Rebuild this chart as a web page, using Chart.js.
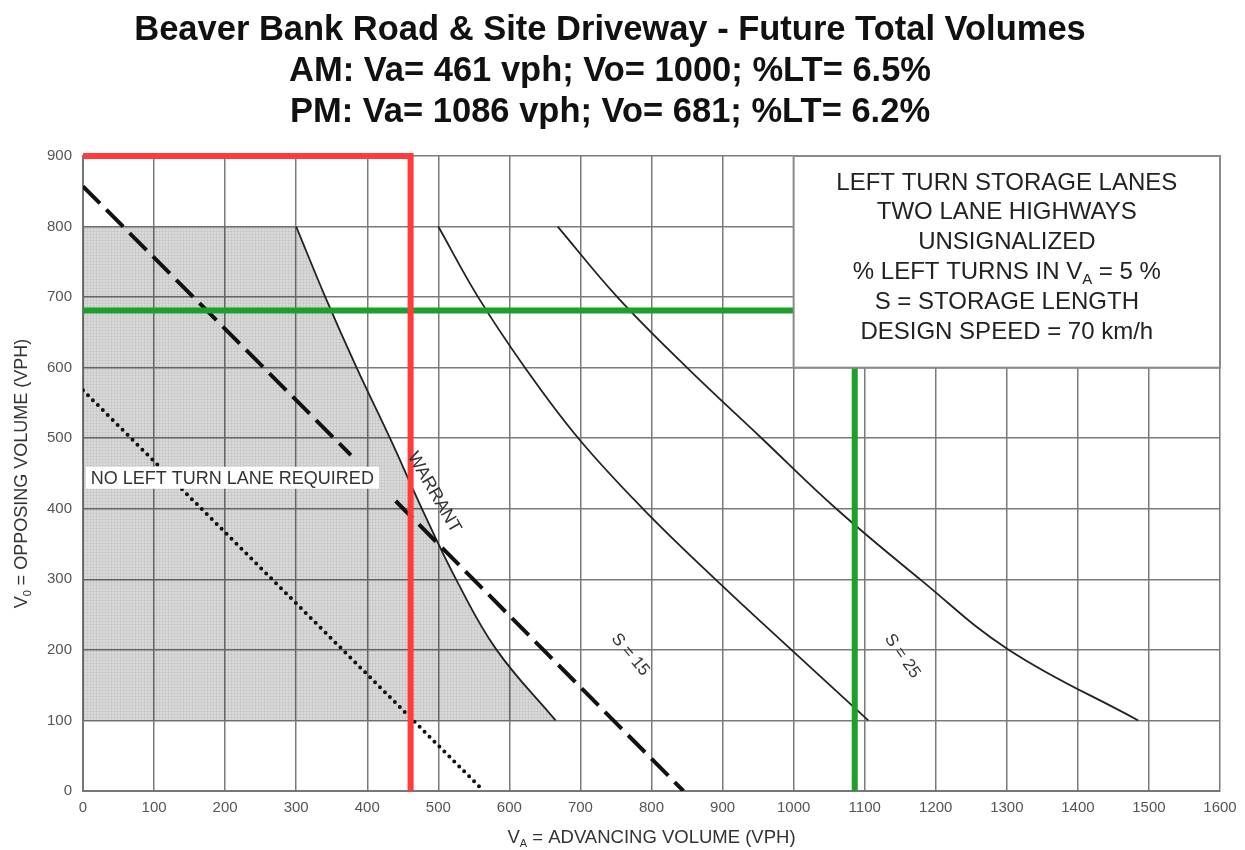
<!DOCTYPE html>
<html><head><meta charset="utf-8">
<script src="https://cdn.jsdelivr.net/npm/chart.js@4.4.1/dist/chart.umd.min.js"></script>
<style>html,body{margin:0;padding:0;background:#fff}</style>
</head><body>
<canvas id="c" width="1245" height="850"></canvas>
<script>
// ---------- data ----------
const titleLines = [
  "Beaver Bank Road & Site Driveway - Future Total Volumes",
  "AM: Va= 461 vph; Vo= 1000; %LT= 6.5%",
  "PM: Va= 1086 vph; Vo= 681; %LT= 6.2%"
];
const xMin = 0, xMax = 1600, xStep = 100;
const yMin = 0, yMax = 900, yStep = 100;

// curve Y levels shared by the three solid curves
const curveY   = [800, 700, 600, 500, 400, 300, 200, 100];
const warrantX = [300, 341, 385, 432, 477, 525, 582, 665];
const s15X     = [500, 556, 622, 697, 788, 890, 997, 1105];
const s25X     = [668, 752, 850, 955, 1060, 1178, 1303, 1485];

// shaded "no left turn lane" zone top edge (left of warrant curve) and its base
const shadeTopX = [0, 300];
const shadeTopY = [800, 800];
const shadeBase = 100;

// dashed line (two segments) and dotted line
const dashAX = [0, 377],  dashAY = [857, 476];
const dashBX = [440, 845], dashBY = [411, 0];
const dotX = [0, 564],    dotY = [568, 0];

// study volumes
const amVa = 461, amVo = 1000;
const pmVa = 1086, pmVo = 681;

// info box extent (data coords) and its text
const boxX = [1000, 1600], boxY = [600, 900];
const boxLines = [
  ["LEFT TURN STORAGE LANES"],
  ["TWO LANE HIGHWAYS"],
  ["UNSIGNALIZED"],
  ["% LEFT TURNS IN V", "A", " = 5 %"],
  ["S = STORAGE LENGTH"],
  ["DESIGN SPEED = 70 km/h"]
];
// annotation labels: text, x, y, angle(deg)
const labels = [
  {t: "WARRANT", x: 494, y: 423, a: 60},
  {t: "S = 15",  x: 770, y: 193, a: 50},
  {t: "S = 25",  x: 1153, y: 191, a: 55}
];
const noLaneLabel = {t: "NO LEFT TURN LANE REQUIRED", x: 4, y: 444};

// ---------- helpers ----------
const FONT = "'Liberation Sans', Arial, Helvetica, sans-serif";
const pts = (xs, ys) => xs.map((x, i) => ({x: x, y: ys[i]}));

const ctx0 = document.getElementById('c').getContext('2d');
function makePattern() {
  const c = document.createElement('canvas');
  c.width = 3; c.height = 3;
  const g = c.getContext('2d');
  g.fillStyle = 'rgba(0,0,0,0.15)';
  g.fillRect(0, 0, 3, 3);
  g.fillStyle = 'rgba(0,0,0,0.05)';
  g.fillRect(0, 0, 3, 1);
  g.fillRect(0, 0, 1, 3);
  return ctx0.createPattern(c, 'repeat');
}
const shadePattern = makePattern();

function drawParts(ctx, parts, cx, cy, size, color) {
  // parts alternate: even index = normal text, odd index = subscript
  const subSize = Math.round(size * 0.62);
  let w = 0;
  parts.forEach((p, i) => {
    ctx.font = (i % 2 ? subSize : size) + 'px ' + FONT;
    w += ctx.measureText(p).width;
  });
  let x = cx - w / 2;
  ctx.fillStyle = color;
  ctx.textAlign = 'left';
  ctx.textBaseline = 'middle';
  parts.forEach((p, i) => {
    const sub = i % 2 === 1;
    ctx.font = (sub ? subSize : size) + 'px ' + FONT;
    ctx.fillText(p, x, cy + (sub ? size * 0.32 : 0));
    x += ctx.measureText(p).width;
  });
}

const overlay = {
  id: 'overlay',
  afterDatasetsDraw(chart) {
    const ctx = chart.ctx, xs = chart.scales.x, ys = chart.scales.y;
    ctx.save();
    // no-lane label with white background
    ctx.font = '18px ' + FONT;
    const px = xs.getPixelForValue(noLaneLabel.x), py = ys.getPixelForValue(noLaneLabel.y);
    const tw = ctx.measureText(noLaneLabel.t).width;
    ctx.fillStyle = '#fff';
    ctx.fillRect(px, py - 11, tw + 10, 22);
    ctx.fillStyle = '#333';
    ctx.textAlign = 'left'; ctx.textBaseline = 'middle';
    ctx.fillText(noLaneLabel.t, px + 5, py + 1);

    // rotated labels
    labels.forEach(l => {
      ctx.save();
      ctx.translate(xs.getPixelForValue(l.x), ys.getPixelForValue(l.y));
      ctx.rotate(l.a * Math.PI / 180);
      ctx.font = (l.t === 'WARRANT' ? 18 : 17) + 'px ' + FONT;
      ctx.fillStyle = '#333';
      ctx.textAlign = 'center'; ctx.textBaseline = 'middle';
      ctx.fillText(l.t, 0, 0);
      ctx.restore();
    });

    // info box
    const bx0 = xs.getPixelForValue(boxX[0]), bx1 = xs.getPixelForValue(boxX[1]);
    const by0 = ys.getPixelForValue(boxY[1]), by1 = ys.getPixelForValue(boxY[0]);
    ctx.fillStyle = '#fff';
    ctx.fillRect(bx0, by0, bx1 - bx0, by1 - by0);
    ctx.strokeStyle = '#8a8a8a';
    ctx.lineWidth = 2;
    ctx.strokeRect(bx0, by0, bx1 - bx0, by1 - by0);
    const cx = (bx0 + bx1) / 2;
    boxLines.forEach((parts, i) => {
      drawParts(ctx, parts, cx, by0 + 27 + i * 29.8, 24, '#222');
    });
    ctx.restore();
  },
  afterDraw(chart) {
    const ctx = chart.ctx, a = chart.chartArea;
    ctx.save();
    // x-axis title
    drawParts(ctx, ["V", "A", " = ADVANCING VOLUME (VPH)"], (a.left + a.right) / 2, 838, 18.5, '#333');
    // y-axis title
    ctx.translate(22, (a.top + a.bottom) / 2);
    ctx.rotate(-Math.PI / 2);
    drawParts(ctx, ["V", "0", " = OPPOSING VOLUME (VPH)"], 0, 0, 18, '#333');
    ctx.restore();
  }
};

const line = (data, extra) => Object.assign({
  data: data, showLine: true, pointRadius: 0, borderColor: '#222', borderWidth: 1.8, fill: false
}, extra);

const yTop = Math.min(amVo, yMax);

new Chart(ctx0, {
  type: 'scatter',
  data: {
    datasets: [
      line([{x: amVa, y: yMin}, {x: amVa, y: yTop}, {x: 0, y: yTop}],
           {borderColor: '#ff3b3b', borderWidth: 6, clip: false, order: 1, borderJoinStyle: 'miter'}),
      line([{x: 0, y: pmVo}, {x: xMax, y: pmVo}], {borderColor: '#1f9e2c', borderWidth: 6, order: 1}),
      line([{x: pmVa, y: yMin}, {x: pmVa, y: yMax}], {borderColor: '#1f9e2c', borderWidth: 6, order: 1}),
      line(pts(dashAX, dashAY), {borderWidth: 4, borderDash: [24, 9], order: 3, borderColor: '#111'}),
      line(pts(dashBX, dashBY), {borderWidth: 4, borderDash: [24, 9], order: 3, borderColor: '#111'}),
      line(pts(dotX, dotY), {borderWidth: 4, borderDash: [0, 7], borderCapStyle: 'round', order: 3, borderColor: '#111'}),
      line(pts(warrantX, curveY), {tension: 0.4, order: 4,
           fill: {value: shadeBase}, backgroundColor: shadePattern}),
      line(pts(s15X, curveY), {tension: 0.4, order: 4}),
      line(pts(s25X, curveY), {tension: 0.4, order: 4}),
      line(pts(shadeTopX, shadeTopY), {borderWidth: 0, order: 6,
           fill: {value: shadeBase}, backgroundColor: shadePattern})
    ]
  },
  options: {
    responsive: false,
    animation: false,
    devicePixelRatio: 1,
    layout: {padding: {left: 0, right: 25, top: 0, bottom: 0}},
    plugins: {
      legend: {display: false},
      tooltip: {enabled: false},
      title: {
        display: true,
        text: titleLines,
        color: '#111',
        font: {family: FONT, size: 34.5, weight: 'bold', lineHeight: 41 / 34.5},
        padding: {top: 10, bottom: 23}
      }
    },
    scales: {
      x: {
        type: 'linear', min: xMin, max: xMax,
        ticks: {stepSize: xStep, color: '#555', font: {family: FONT, size: 15}, padding: 8, maxRotation: 0,
                callback: v => String(v)},
        grid: {color: '#7a7a7a', lineWidth: 1.5, drawTicks: false},
        border: {color: '#777', width: 2},
        afterFit: s => { s.height = 59; }
      },
      y: {
        type: 'linear', min: yMin, max: yMax,
        ticks: {stepSize: yStep, color: '#555', font: {family: FONT, size: 15}, padding: 11,
                callback: v => String(v)},
        grid: {color: '#7a7a7a', lineWidth: 1.5, drawTicks: false},
        border: {color: '#777', width: 2},
        afterFit: s => { s.width = 83; }
      }
    }
  },
  plugins: [overlay]
});
</script>
</body></html>
